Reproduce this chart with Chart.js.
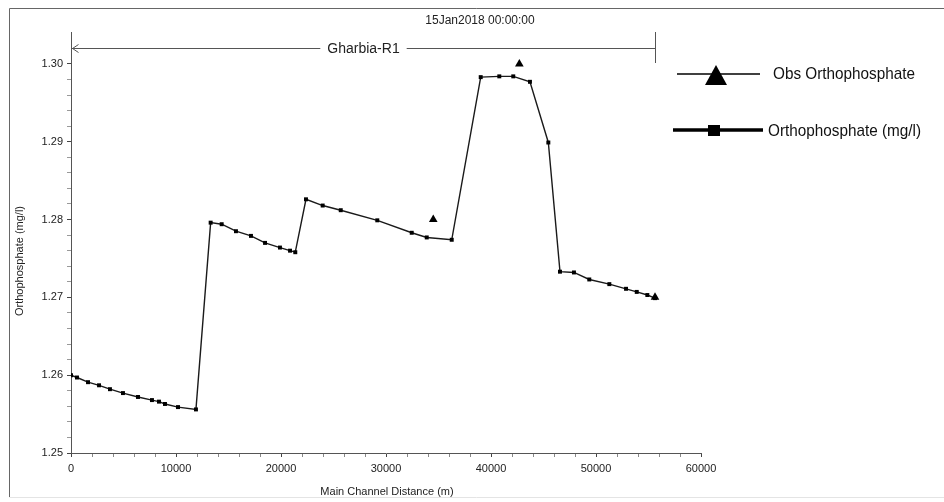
<!DOCTYPE html>
<html lang="en">
<head>
<meta charset="UTF-8">
<title>Orthophosphate profile - Gharbia-R1</title>
<script src="https://cdn.jsdelivr.net/npm/chart.js"></script>
<style>
  body { margin: 0; background: #fff; }
  canvas { display: block; }
</style>
</head>
<body>
<canvas id="myChart" width="944" height="502"></canvas>
<script>
// distance along the main channel (m) and simulated orthophosphate (mg/l)
const distance = [0, 570, 1620, 2670, 3710, 4950, 6380, 7710, 8380, 8950, 10190, 11900,
  13300, 14350, 15710, 17140, 18480, 19900, 20860, 21360,
  22380, 23970, 25690, 29170, 32450, 33880, 36260,
  39020, 40790, 42120, 43710, 45460,
  46570, 47900, 49360, 51270, 52860, 53880, 54890, 55620];
const orthoP = [1.2600, 1.2597, 1.2591, 1.2587, 1.2582, 1.2577, 1.2572, 1.2568, 1.2566, 1.2563, 1.2559, 1.2556,
  1.2796, 1.2794, 1.2785, 1.2779, 1.2770, 1.2764, 1.2760, 1.2758,
  1.2826, 1.2818, 1.2812, 1.2799, 1.2783, 1.2777, 1.2774,
  1.2983, 1.2984, 1.2984, 1.2977, 1.2899,
  1.2733, 1.2732, 1.2723, 1.2717, 1.2711, 1.2707, 1.2703, 1.2699];

// observed values
const obsDistance = [34500, 42700, 55620];
const obsOrthoP = [1.2800, 1.3000, 1.2700];

const xTickLabels = [0, 10000, 20000, 30000, 40000, 50000, 60000];
const yTickLabels = [1.25, 1.26, 1.27, 1.28, 1.29, 1.30];

const reachName = 'Gharbia-R1';
const reachStart = 0;
const reachEnd = 55620;
const titleText = '15Jan2018 00:00:00';

const FONT = '"Liberation Sans", Arial, sans-serif';

// major ticks plus 4 minor ticks between them
function withMinor(major) {
  const out = [];
  for (let i = 0; i < major.length; i++) {
    out.push({ value: major[i], major: true });
    if (i < major.length - 1) {
      const step = (major[i + 1] - major[i]) / 5;
      for (let k = 1; k < 5; k++) out.push({ value: major[i] + k * step, major: false });
    }
  }
  return out;
}

const decorations = {
  id: 'decorations',
  afterDraw(chart) {
    const ctx = chart.ctx;
    const xs = chart.scales.x;
    ctx.save();

    // frame
    ctx.strokeStyle = '#666';
    ctx.lineWidth = 1;
    ctx.beginPath();
    ctx.moveTo(9.5, 497); ctx.lineTo(9.5, 8.5); ctx.lineTo(944, 8.5);
    ctx.stroke();
    ctx.strokeStyle = '#e4e4e4';
    ctx.beginPath();
    ctx.moveTo(9.5, 497.5); ctx.lineTo(944, 497.5);
    ctx.stroke();

    // title
    ctx.fillStyle = '#222';
    ctx.font = '12px ' + FONT;
    ctx.textAlign = 'center';
    ctx.textBaseline = 'middle';
    ctx.fillText(titleText, 480, 21);

    // reach extent line
    const x0 = Math.round(xs.getPixelForValue(reachStart)) + 0.5;
    const x1 = Math.round(xs.getPixelForValue(reachEnd)) + 0.5;
    const yr = 48.5;
    const mid = (x0 + x1) / 2;
    ctx.font = '14px ' + FONT;
    const tw = ctx.measureText(reachName).width;
    ctx.strokeStyle = '#555';
    ctx.beginPath();
    ctx.moveTo(x0, yr); ctx.lineTo(mid - tw / 2 - 7, yr);
    ctx.moveTo(mid + tw / 2 + 7, yr); ctx.lineTo(x1, yr);
    ctx.moveTo(x0 + 7, yr - 4); ctx.lineTo(x0 + 1, yr); ctx.lineTo(x0 + 7, yr + 4);
    ctx.moveTo(x1, 32); ctx.lineTo(x1, 63);
    ctx.stroke();
    ctx.fillStyle = '#222';
    ctx.fillText(reachName, mid, yr + 1);

    // axis titles
    ctx.font = '11px ' + FONT;
    ctx.fillText('Main Channel Distance (m)', 387, 492);
    ctx.save();
    ctx.translate(20, 261);
    ctx.rotate(-Math.PI / 2);
    ctx.fillText('Orthophosphate (mg/l)', 0, 0);
    ctx.restore();

    // legend
    const items = chart.data.datasets;
    ctx.strokeStyle = '#000';
    ctx.fillStyle = '#000';
    // observed: thin line + big triangle
    ctx.lineWidth = 1.3;
    ctx.beginPath();
    ctx.moveTo(677, 74); ctx.lineTo(760, 74);
    ctx.stroke();
    ctx.beginPath();
    ctx.moveTo(716, 65); ctx.lineTo(727, 85); ctx.lineTo(705, 85); ctx.closePath();
    ctx.fill();
    // simulated: thick line + square
    ctx.lineWidth = 3.5;
    ctx.beginPath();
    ctx.moveTo(673, 130); ctx.lineTo(763, 130);
    ctx.stroke();
    ctx.fillRect(708, 125, 12, 11);

    ctx.font = '17px ' + FONT;
    ctx.textAlign = 'left';
    ctx.fillStyle = '#111';
    [[items[0].label, 773, 74], [items[1].label, 768, 131]].forEach(([t, lx, ly]) => {
      ctx.save();
      ctx.translate(lx, ly);
      ctx.scale(0.9, 1);
      ctx.fillText(t, 0, 0);
      ctx.restore();
    });

    ctx.restore();
  }
};

const ctx = document.getElementById('myChart').getContext('2d');
const chart = new Chart(ctx, {
  type: 'line',
  data: {
    datasets: [
      {
        label: 'Obs Orthophosphate',
        data: obsDistance.map((d, i) => ({ x: d, y: obsOrthoP[i] })),
        showLine: false,
        pointStyle: 'triangle',
        pointRadius: 5,
        pointBackgroundColor: '#000',
        pointBorderColor: '#000',
        pointBorderWidth: 0
      },
      {
        label: 'Orthophosphate (mg/l)',
        data: distance.map((d, i) => ({ x: d, y: orthoP[i] })),
        borderColor: '#1a1a1a',
        borderWidth: 1.4,
        tension: 0,
        pointStyle: 'rect',
        pointRadius: 2.8,
        pointBackgroundColor: '#000',
        pointBorderColor: '#000',
        pointBorderWidth: 0
      }
    ]
  },
  options: {
    responsive: false,
    devicePixelRatio: 1,
    animation: false,
    events: [],
    layout: { padding: { left: 0, right: 243, top: 32, bottom: 0 } },
    plugins: {
      legend: { display: false },
      tooltip: { enabled: false }
    },
    scales: {
      x: {
        type: 'linear',
        min: 0,
        max: 60000,
        afterFit: s => { s.height = 49; },
        afterBuildTicks: s => { s.ticks = withMinor(xTickLabels); },
        border: { color: '#555', width: 1 },
        grid: {
          drawOnChartArea: false,
          tickLength: 4,
          tickColor: c => (c.tick && c.tick.major ? '#444' : '#888')
        },
        ticks: {
          autoSkip: false,
          maxRotation: 0,
          padding: 5,
          color: '#222',
          font: { family: FONT, size: 11 },
          callback: function (v, i, ticks) { return ticks[i].major ? String(v) : ''; }
        }
      },
      y: {
        type: 'linear',
        min: 1.25,
        max: 1.3041,
        afterFit: s => { s.width = 71; },
        afterBuildTicks: s => { s.ticks = withMinor(yTickLabels); },
        border: { color: '#555', width: 1 },
        grid: {
          drawOnChartArea: false,
          tickLength: 4,
          tickColor: c => (c.tick && c.tick.major ? '#444' : '#999')
        },
        ticks: {
          autoSkip: false,
          padding: 4,
          color: '#222',
          font: { family: FONT, size: 11 },
          callback: function (v, i, ticks) { return ticks[i].major ? v.toFixed(2) : ''; }
        }
      }
    }
  },
  plugins: [decorations]
});
</script>
</body>
</html>
